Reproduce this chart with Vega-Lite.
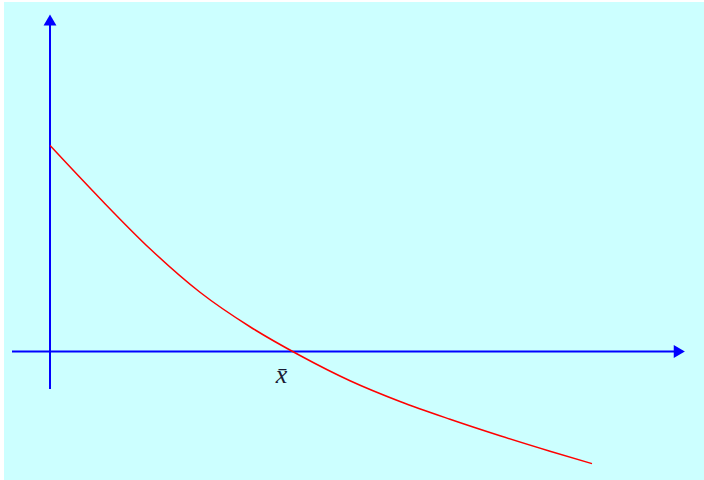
{
  "$schema": "https://vega.github.io/schema/vega-lite/v6.json",
  "width": 704,
  "height": 480,
  "autosize": {"type": "fit", "contains": "padding"},
  "padding": {"left": 4, "top": 2, "right": 0, "bottom": 0},
  "background": "white",
  "config": {"view": {"fill": "#ccffff", "stroke": null}},
  "datasets": {
    "axes": [
      {"x": -3.8, "y": 0, "x2": 62.5, "y2": 0},
      {"x": 0, "y": -3.75, "x2": 0, "y2": 33}
    ],
    "arrows": [
      {"x": 0, "y": 33.15, "shape": "triangle-up"},
      {"x": 62.93, "y": 0, "shape": "triangle-right"}
    ],
    "curve": [
      {"x": 0, "y": 20.6},
      {"x": 5, "y": 15.3},
      {"x": 10, "y": 10.275},
      {"x": 15, "y": 5.925},
      {"x": 20, "y": 2.475},
      {"x": 25, "y": -0.4},
      {"x": 30, "y": -2.925},
      {"x": 35, "y": -5.0},
      {"x": 40, "y": -6.775},
      {"x": 45, "y": -8.425},
      {"x": 50, "y": -9.975},
      {"x": 54.2, "y": -11.215}
    ],
    "labels": [
      {"x": 23.15, "y": -3.15, "text": "x̄"}
    ]
  },
  "encoding": {
    "x": {"field": "x", "type": "quantitative", "scale": {"domain": [-4.6, 65.4], "nice": false, "zero": false}, "axis": null},
    "y": {"field": "y", "type": "quantitative", "scale": {"domain": [-12.85, 34.95], "nice": false, "zero": false}, "axis": null}
  },
  "layer": [
    {
      "data": {"name": "axes"},
      "mark": {"type": "rule", "color": "#0000ff", "strokeWidth": 2},
      "encoding": {
        "x2": {"field": "x2"},
        "y2": {"field": "y2"}
      }
    },
    {
      "data": {"name": "arrows"},
      "mark": {"type": "point", "filled": true, "color": "#0000ff", "opacity": 1, "size": 165},
      "encoding": {
        "shape": {"field": "shape", "type": "nominal", "scale": null}
      }
    },
    {
      "data": {"name": "curve"},
      "mark": {"type": "line", "color": "#ff0000", "strokeWidth": 1.5, "interpolate": "monotone"},
      "encoding": {}
    },
    {
      "data": {"name": "labels"},
      "mark": {"type": "text", "font": "Liberation Serif", "fontStyle": "italic", "fontSize": 26, "align": "center", "baseline": "alphabetic", "color": "#1a1a33"},
      "encoding": {
        "text": {"field": "text", "type": "nominal"}
      }
    }
  ]
}
